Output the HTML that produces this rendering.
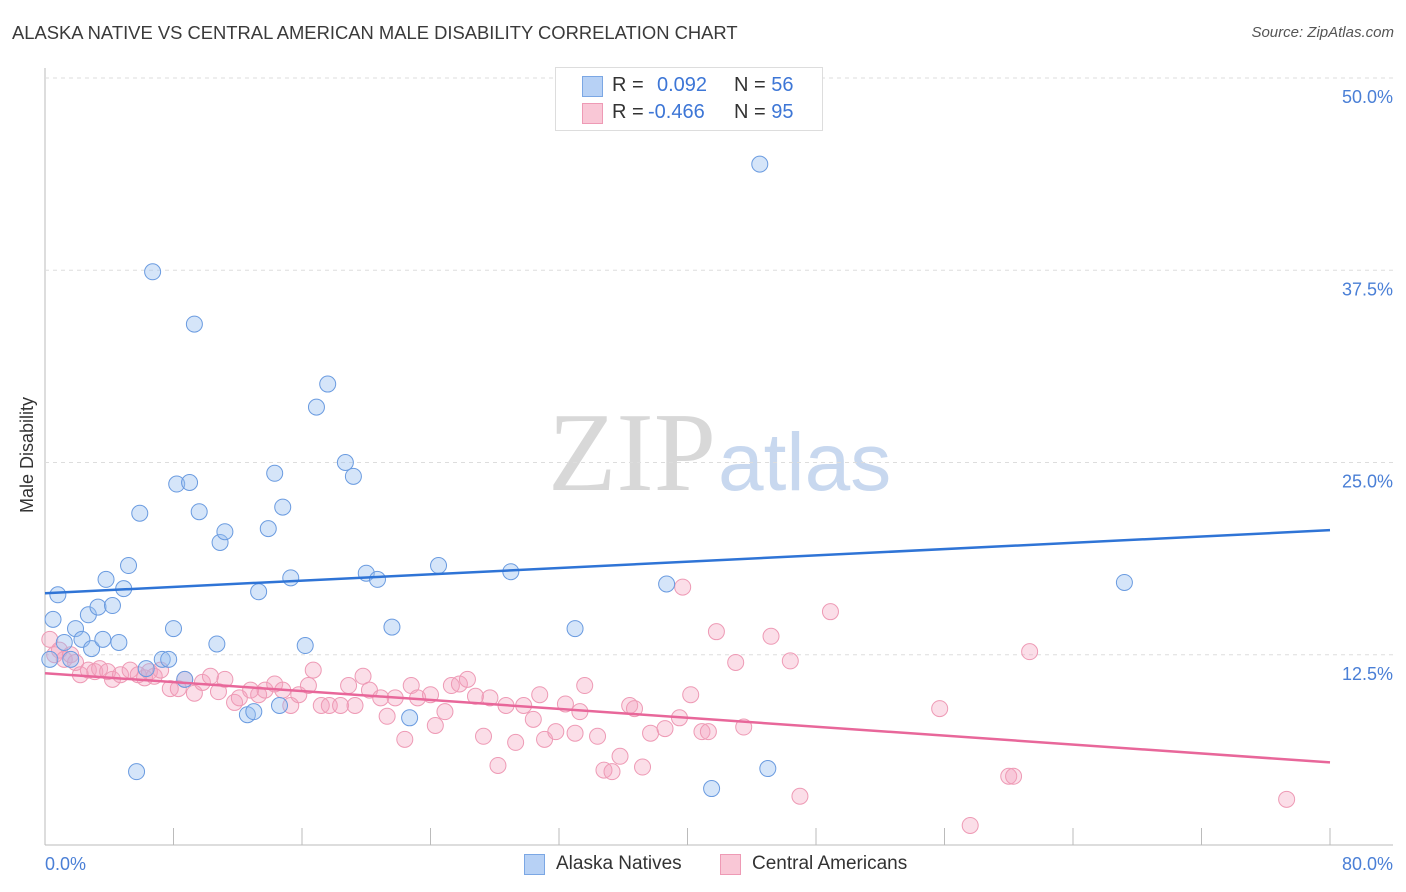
<!DOCTYPE html>
<html><head><meta charset="utf-8">
<style>
body{margin:0;background:#fff;font-family:"Liberation Sans",sans-serif;}
#wrap{position:relative;width:1406px;height:892px;overflow:hidden;}
.t{position:absolute;white-space:nowrap;}
</style></head>
<body>
<div id="wrap">
<div class="t" style="left:12px;top:22px;font-size:18.4px;color:#3a3a3a;">ALASKA NATIVE VS CENTRAL AMERICAN MALE DISABILITY CORRELATION CHART</div>
<div class="t" style="right:12px;top:24px;font-size:15px;color:#555;font-style:italic;">Source: ZipAtlas.com</div>
<svg id="svg" width="1406" height="892" style="position:absolute;left:0;top:0">
<text x="716" y="490" text-anchor="end" font-family="Liberation Serif,serif" font-size="112" fill="#d8d8d8">ZIP</text>
<text x="718" y="490" font-family="Liberation Sans,sans-serif" font-size="82" fill="#c8d8ef">atlas</text>
<g id="grid"></g><g id="pts"></g><g id="lines"></g>
<text x="33" y="455" transform="rotate(-90 33 455)" text-anchor="middle" font-size="18" fill="#333">Male Disability</text>
<text x="45" y="870" font-size="18" fill="#4a7fd6">0.0%</text>
<text x="1393" y="870" text-anchor="end" font-size="18" fill="#4a7fd6">80.0%</text>
</svg>
<div style="position:absolute;left:555px;top:67px;width:266px;height:62px;border:1px solid #ddd;background:#fff;"></div>
<div style="position:absolute;left:582px;top:76px;width:19px;height:19px;background:#b7d1f5;border:1px solid #7ba7e4;"></div>
<div style="position:absolute;left:582px;top:103px;width:19px;height:19px;background:#f9c7d6;border:1px solid #ee9ab5;"></div>
<div class="t" style="left:612px;top:74px;font-size:20px;color:#333;">R = <span style="position:absolute;left:45px;color:#3d76d6">0.092</span><span style="position:absolute;left:122px">N = <span style="color:#3d76d6">56</span></span></div>
<div class="t" style="left:612px;top:101px;font-size:20px;color:#333;">R = <span style="position:absolute;left:36px;color:#3d76d6">-0.466</span><span style="position:absolute;left:122px">N = <span style="color:#3d76d6">95</span></span></div>
<div style="position:absolute;left:524px;top:854px;width:19px;height:19px;background:#b7d1f5;border:1px solid #7ba7e4;"></div>
<div class="t" style="left:556px;top:853px;font-size:19px;color:#333;">Alaska Natives</div>
<div style="position:absolute;left:720px;top:854px;width:19px;height:19px;background:#f9c7d6;border:1px solid #ee9ab5;"></div>
<div class="t" style="left:752px;top:853px;font-size:19px;color:#333;">Central Americans</div>
</div>
<script>
const yTicks=[12.5,25,37.5,50];
const yTickLabels=["12.5%","25.0%","37.5%","50.0%"];
const xTicks=[0,8,16,24,32,40,48,56,64,72,80];
const blueX=[0.5,0.8,1.2,1.9,2.3,2.7,2.9,3.3,3.6,3.8,4.2,4.6,4.9,5.2,5.7,5.9,6.7,7.3,7.7,8.0,8.2,8.7,9.0,9.3,9.6,10.7,10.9,11.2,12.6,13.0,13.3,13.9,14.3,14.6,14.8,15.3,16.2,16.9,17.6,18.7,19.2,20.0,20.7,21.6,22.7,24.5,29.0,33.0,38.7,41.5,44.5,45.0,67.2,0.3,1.6,6.3];
const blueY=[14.8,16.4,13.3,14.2,13.5,15.1,12.9,15.6,13.5,17.4,15.7,13.3,16.8,18.3,4.9,21.7,37.4,12.2,12.2,14.2,23.6,10.9,23.7,34.0,21.8,13.2,19.8,20.5,8.6,8.8,16.6,20.7,24.3,9.2,22.1,17.5,13.1,28.6,30.1,25.0,24.1,17.8,17.4,14.3,8.4,18.3,17.9,14.2,17.1,3.8,44.4,5.1,17.2,12.2,12.2,11.6];
const pinkX=[0.3,0.6,0.9,1.2,1.6,1.9,2.2,2.7,3.1,3.4,3.9,4.2,4.7,5.3,5.8,6.2,6.5,6.8,7.2,7.8,8.3,8.7,9.3,9.8,10.3,10.8,11.2,11.8,12.1,12.8,13.3,13.7,14.3,14.8,15.3,15.8,16.4,16.7,17.2,17.7,18.4,18.9,19.3,19.8,20.2,20.9,21.3,21.8,22.4,22.8,23.2,24.0,24.3,24.9,25.3,25.8,26.3,26.8,27.3,27.7,28.2,28.7,29.3,29.8,30.4,30.8,31.1,31.8,32.4,33.0,33.3,33.6,34.4,34.8,35.3,35.8,36.4,36.7,37.2,37.7,38.6,39.5,40.2,40.9,41.3,41.8,43.0,43.5,45.2,46.4,47.0,48.9,55.7,57.6,60.0,60.3,61.3,77.3,39.7];
const pinkY=[13.5,12.5,12.8,12.2,12.5,12.0,11.2,11.5,11.4,11.6,11.4,10.9,11.2,11.5,11.2,11.0,11.4,11.1,11.5,10.3,10.3,10.9,10.0,10.7,11.1,10.1,10.9,9.4,9.7,10.2,9.9,10.2,10.6,10.2,9.2,9.9,10.5,11.5,9.2,9.2,9.2,10.5,9.2,11.1,10.2,9.7,8.5,9.7,7.0,10.5,9.7,9.9,7.9,8.8,10.5,10.6,10.9,9.8,7.2,9.7,5.3,9.2,6.8,9.2,8.3,9.9,7.0,7.5,9.3,7.4,8.8,10.5,7.2,5.0,4.9,5.9,9.2,9.0,5.2,7.4,7.7,8.4,9.9,7.5,7.5,14.0,12.0,7.8,13.7,12.1,3.3,15.3,9.0,1.4,4.6,4.6,12.7,3.1,16.9];
const blueLine=[16.5,20.6];
const pinkLine=[11.3,5.5];
const NS="http://www.w3.org/2000/svg";
const X=v=>45+v/80*1285;
const Y=v=>847-v*15.38;
function mk(tag,attrs,parent){const e=document.createElementNS(NS,tag);for(const k in attrs)e.setAttribute(k,attrs[k]);document.getElementById(parent).appendChild(e);return e;}
let e;
e=mk('line',{x1:45,y1:68,x2:45,y2:845,stroke:'#bbb','stroke-width':1},'grid');


e=mk('line',{x1:45,y1:845,x2:1393,y2:845,stroke:'#bbb','stroke-width':1},'grid');


yTicks.forEach((v,i)=>{
 e=mk('line',{x1:45,y1:Y(v),x2:1393,y2:Y(v),stroke:'#ddd','stroke-dasharray':'4,4'},'grid');
 
 
 e=mk('text',{x:1393,y:Y(v)+25,'text-anchor':'end','font-size':18,fill:'#4a7fd6'},'grid');
 e.textContent=yTickLabels[i];
 
 
});
xTicks.forEach(v=>{
 e=mk('line',{x1:X(v),y1:828,x2:X(v),y2:845,stroke:'#bbb'},'grid');
 
 
});
pinkX.forEach((x,i)=>{
 e=mk('circle',{cx:X(x),cy:Y(pinkY[i]),r:8,fill:'rgba(244,160,188,0.35)',stroke:'#ee9ab5','stroke-width':1},'pts');
 
 
});
blueX.forEach((x,i)=>{
 e=mk('circle',{cx:X(x),cy:Y(blueY[i]),r:8,fill:'rgba(150,190,240,0.4)',stroke:'#6a9be0','stroke-width':1},'pts');
 
 
});
e=mk('line',{x1:X(0),y1:Y(blueLine[0]),x2:X(80),y2:Y(blueLine[1]),stroke:'#2f74d6','stroke-width':2.5},'lines');


e=mk('line',{x1:X(0),y1:Y(pinkLine[0]),x2:X(80),y2:Y(pinkLine[1]),stroke:'#e8679a','stroke-width':2.5},'lines');


</script>
</body></html>
